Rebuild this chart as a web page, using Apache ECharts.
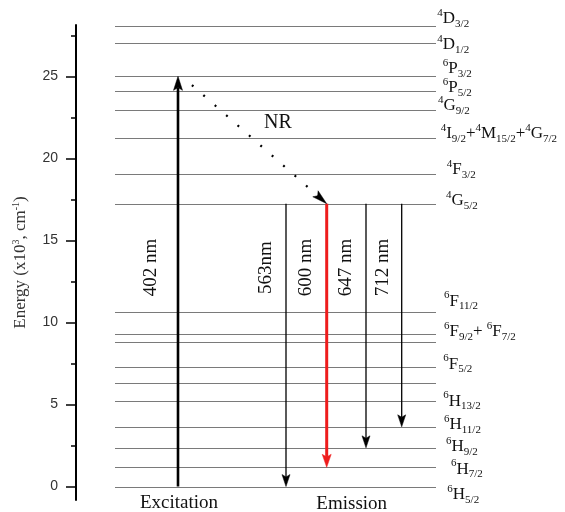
<!DOCTYPE html>
<html><head><meta charset="utf-8">
<script src="https://cdn.jsdelivr.net/npm/echarts@6/dist/echarts.min.js"></script>
<style>html,body{margin:0;padding:0;background:#fff}#c{width:565px;height:512px}</style>
</head><body><div id="c"></div>
<script>
// ---------------- data ----------------
// energy levels (x10^3 cm^-1), top to bottom
const levelEnergies = [28.04, 27.01, 25.0, 24.12, 22.93, 21.27, 19.07, 17.24, 10.65, 9.29, 8.80, 7.30, 6.32, 5.21, 3.64, 2.36, 1.17, 0];
const levelLabels = ['^{4}D_{3/2}', '^{4}D_{1/2}', '^{6}P_{3/2}', '^{6}P_{5/2}', '^{4}G_{9/2}',
  '^{4}I_{9/2}+^{4}M_{15/2}+^{4}G_{7/2}', '^{4}F_{3/2}', '^{4}G_{5/2}', '^{6}F_{11/2}',
  '^{6}F_{9/2}+ ^{6}F_{7/2}', '', '^{6}F_{5/2}', '', '^{6}H_{13/2}', '^{6}H_{11/2}',
  '^{6}H_{9/2}', '^{6}H_{7/2}', '^{6}H_{5/2}'];
// radiative transitions (level indices)
const transitionNames = ['402 nm', '563nm', '600 nm', '647 nm', '712 nm'];
const transitionFrom = [17, 7, 7, 7, 7];
const transitionTo = [2, 17, 16, 15, 14];
// non-radiative relaxation
const nrName = 'NR';
const nrFrom = 2;
const nrTo = 7;
const groupNames = ['Excitation', 'Emission'];
const majorTicks = [0, 5, 10, 15, 20, 25];
const minorTicks = [2.5, 7.5, 12.5, 17.5, 22.5, 27.5];

// ---------------- layout / style ----------------
const SERIF = '"Liberation Serif", "Times New Roman", serif';
const L = {
  levelX: [39, 360],
  lblDx: [1.3, 1.3, 6.7, 6.7, 2, 4.7, 10.7, 10, 8, 8, 0, 7.3, 0, 7.3, 8, 10, 15, 11.3],
  lblDy: [-8, 1.5, -7.5, -3.5, -4.5, -4.3, -4.3, -3, -10.7, -3, 0, -2.7, 0, 0, -2.7, -1.7, 1.7, 8],
  arrowX: [102, 210, 250.7, 290, 325.7],
  arrowColor: ['#000', '#000', '#ee1c1c', '#000', '#000'],
  arrowWidth: [2.6, 1.3, 3, 1.3, 1.3],
  head: [[9, 14], [8, 12], [9, 13], [8, 12], [8, 12]],
  textDx: [-27, -20, -21, -20, -19],
  textE: 13.35,
  nrStartDx: 4,
  nrText: [202, 22.2],
  groupX: [103, 275.7]
};

function toRich(s) {
  return s.replace(/\^\{([^}]*)\}/g, '{sup|$1}').replace(/_\{([^}]*)\}/g, '{sub|$1}');
}
const RICH = {
  sup: {fontSize: 11, fontFamily: SERIF, lineHeight: 16, verticalAlign: 'top', fill: '#111', color: '#111'},
  sub: {fontSize: 11, fontFamily: SERIF, lineHeight: 6, verticalAlign: 'bottom', fill: '#111', color: '#111'}
};

function arrow(p0, p1, w, h, color, lw, dash, dashOffset) {
  const dx = p1[0] - p0[0], dy = p1[1] - p0[1];
  const len = Math.hypot(dx, dy);
  const ux = dx / len, uy = dy / len, nx = -uy, ny = ux;
  const bx = p1[0] - ux * h, by = p1[1] - uy * h;
  const notch = h * 0.2;
  const mx = p1[0] - ux * (h - notch), my = p1[1] - uy * (h - notch);
  const lineStyle = {stroke: color, lineWidth: lw};
  if (dash) { lineStyle.lineDash = dash; lineStyle.lineDashOffset = dashOffset || 0; }
  return [
    {type: 'line', shape: {x1: p0[0], y1: p0[1], x2: mx, y2: my}, style: lineStyle},
    {type: 'polygon', shape: {points: [[p1[0], p1[1]], [bx + nx * w / 2, by + ny * w / 2], [mx, my], [bx - nx * w / 2, by - ny * w / 2]]},
      style: {fill: color, stroke: color, lineWidth: 0.5}}
  ];
}

const chart = echarts.init(document.getElementById('c'), null, {renderer: 'canvas'});
const option = {
  animation: false,
  backgroundColor: '#fff',
  grid: {left: 76, right: 129, top: 25, bottom: 12, containLabel: false},
  xAxis: {type: 'value', min: 0, max: 360, show: false},
  yAxis: [{
    type: 'value', min: -0.82, max: 28.13, position: 'left',
    axisLine: {show: true, lineStyle: {color: '#000', width: 2}},
    axisTick: {show: true, customValues: majorTicks, length: 10, lineStyle: {color: '#000', width: 1.5}},
    axisLabel: {show: true, customValues: majorTicks, margin: 18, color: '#333', fontSize: 14, fontFamily: '"Liberation Sans", Arial, sans-serif'},
    splitLine: {show: false},
    name: 'Energy (x10{sup|3}, cm{sup|-1})',
    nameLocation: 'middle', nameGap: 45, nameRotate: 90,
    nameTextStyle: {color: '#333', fontSize: 17, fontFamily: SERIF, lineHeight: 20,
      rich: {sup: {fontSize: 10, fontFamily: SERIF, color: '#333', lineHeight: 14, verticalAlign: 'top'}}}
  }, {
    type: 'value', min: -0.82, max: 28.13, position: 'left',
    axisLine: {show: false},
    axisTick: {show: true, customValues: minorTicks, length: 5, lineStyle: {color: '#000', width: 1.5}},
    axisLabel: {show: false},
    splitLine: {show: false}
  }],
  series: [
    {
      type: 'custom', coordinateSystem: 'cartesian2d', xAxisIndex: 0, yAxisIndex: 0, silent: true, clip: false,
      data: levelEnergies.map(e => [L.levelX[0], e]),
      renderItem: function (params, api) {
        const i = params.dataIndex;
        const e = levelEnergies[i];
        const a = api.coord([L.levelX[0], e]), b = api.coord([L.levelX[1], e]);
        const y = Math.round(a[1]) + 0.5;
        const children = [{type: 'line', shape: {x1: a[0], y1: y, x2: b[0], y2: y}, style: {stroke: '#7a7a7a', lineWidth: 1.2}}];
        if (levelLabels[i]) {
          children.push({type: 'text', x: b[0] + L.lblDx[i], y: b[1] + L.lblDy[i],
            style: {text: toRich(levelLabels[i]), rich: RICH, fill: '#111', fontSize: 17, fontFamily: SERIF,
              lineHeight: 22, align: 'left', verticalAlign: 'middle', textAlign: 'left', textVerticalAlign: 'middle'}});
        }
        return {type: 'group', children};
      }
    },
    {
      type: 'custom', coordinateSystem: 'cartesian2d', xAxisIndex: 0, yAxisIndex: 0, silent: true, clip: false,
      data: transitionNames.map((n, i) => [L.arrowX[i], levelEnergies[transitionFrom[i]]]),
      renderItem: function (params, api) {
        const i = params.dataIndex;
        const x = L.arrowX[i];
        const p0 = api.coord([x, levelEnergies[transitionFrom[i]]]);
        const p1 = api.coord([x, levelEnergies[transitionTo[i]]]);
        const children = arrow(p0, p1, L.head[i][0], L.head[i][1], L.arrowColor[i], L.arrowWidth[i]);
        const t = api.coord([x, L.textE]);
        children.push({type: 'text', x: t[0] + L.textDx[i], y: t[1], rotation: Math.PI / 2,
          style: {text: transitionNames[i], fill: '#111', fontSize: 19, fontFamily: SERIF,
            align: 'center', verticalAlign: 'middle', textAlign: 'center', textVerticalAlign: 'middle'}});
        return {type: 'group', children};
      }
    },
    {
      type: 'custom', coordinateSystem: 'cartesian2d', xAxisIndex: 0, yAxisIndex: 0, silent: true, clip: false,
      data: [[L.arrowX[0], levelEnergies[nrFrom]]],
      renderItem: function (params, api) {
        const p0 = api.coord([L.arrowX[0] + L.nrStartDx, levelEnergies[nrFrom]]);
        const p1 = api.coord([L.arrowX[2], levelEnergies[nrTo]]);
        const children = arrow(p0, p1, 8, 15, '#000', 2.2, [2, 13.2], 2);
        const t = api.coord(L.nrText);
        children.push({type: 'text', x: t[0], y: t[1],
          style: {text: nrName, fill: '#111', fontSize: 20, fontFamily: SERIF,
            align: 'center', verticalAlign: 'middle', textAlign: 'center', textVerticalAlign: 'middle'}});
        return {type: 'group', children};
      }
    },
    {
      type: 'custom', coordinateSystem: 'cartesian2d', xAxisIndex: 0, yAxisIndex: 0, silent: true, clip: false,
      data: groupNames.map((n, i) => [L.groupX[i], 0]),
      renderItem: function (params, api) {
        const i = params.dataIndex;
        const p = api.coord([L.groupX[i], 0]);
        return {type: 'text', x: p[0], y: p[1] + 16 + i,
          style: {text: groupNames[i], fill: '#111', fontSize: 19, fontFamily: SERIF,
            align: 'center', verticalAlign: 'middle', textAlign: 'center', textVerticalAlign: 'middle'}};
      }
    }
  ]
};
chart.setOption(option);
</script>
</body></html>
